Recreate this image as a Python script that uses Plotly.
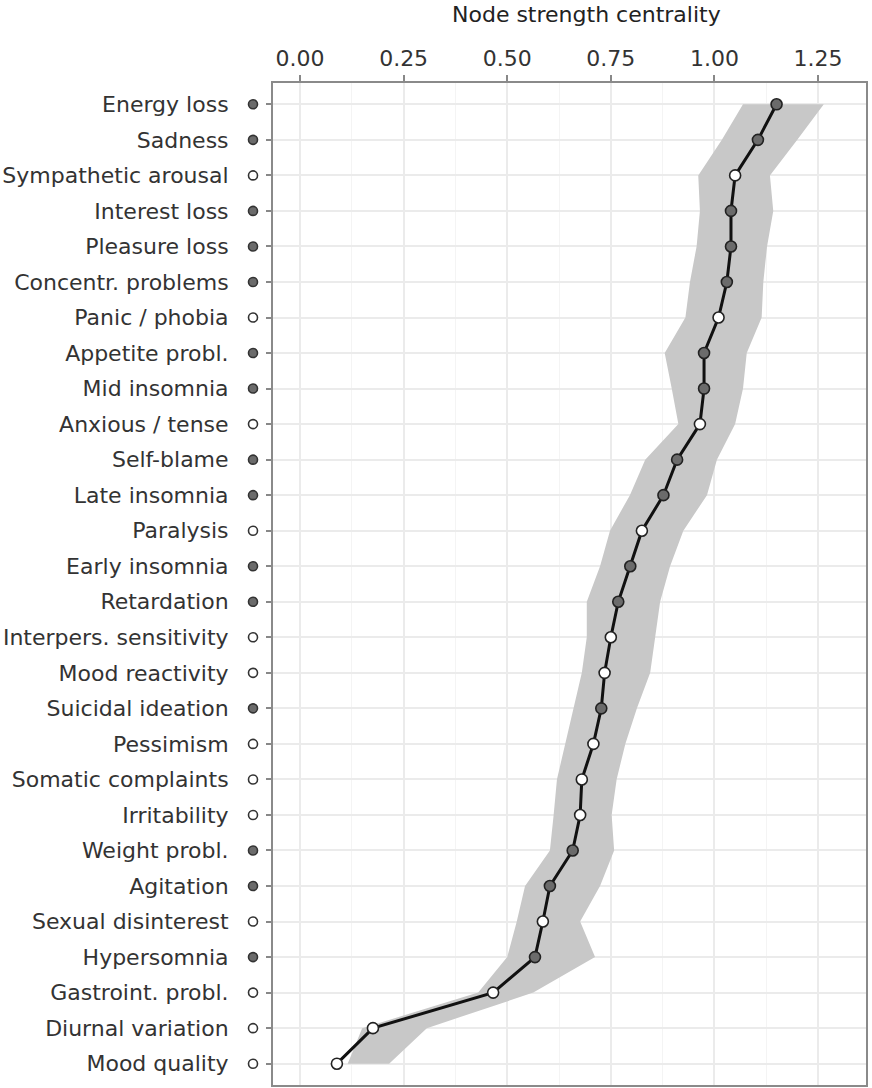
import plotly.graph_objects as go

symptoms = ["Energy loss", "Sadness", "Sympathetic arousal", "Interest loss", "Pleasure loss",
            "Concentr. problems", "Panic / phobia", "Appetite probl.", "Mid insomnia",
            "Anxious / tense", "Self-blame", "Late insomnia", "Paralysis", "Early insomnia",
            "Retardation", "Interpers. sensitivity", "Mood reactivity", "Suicidal ideation",
            "Pessimism", "Somatic complaints", "Irritability", "Weight probl.", "Agitation",
            "Sexual disinterest", "Hypersomnia", "Gastroint. probl.", "Diurnal variation",
            "Mood quality"]
# True = DSM depression symptom (filled marker), False = other (open marker)
is_dsm = [True, True, False, True, True, True, False, True, True, False, True, True, False, True,
          True, False, False, True, False, False, False, True, True, False, True, False, False, False]
strength = [1.15, 1.105, 1.05, 1.04, 1.04, 1.03, 1.01, 0.975, 0.975, 0.965, 0.91, 0.877, 0.825,
            0.797, 0.768, 0.75, 0.735, 0.727, 0.708, 0.68, 0.676, 0.658, 0.603, 0.586, 0.567,
            0.466, 0.176, 0.089]
lower = [1.069, 1.018, 0.961, 0.965, 0.957, 0.941, 0.93, 0.88, 0.897, 0.913, 0.833, 0.796, 0.748,
         0.724, 0.692, 0.692, 0.68, 0.66, 0.64, 0.62, 0.612, 0.603, 0.543, 0.523, 0.5, 0.43,
         0.15, 0.115]
upper = [1.264, 1.2, 1.134, 1.142, 1.127, 1.118, 1.114, 1.078, 1.069, 1.05, 1.006, 0.982, 0.925,
         0.893, 0.869, 0.857, 0.845, 0.813, 0.785, 0.764, 0.752, 0.758, 0.724, 0.676, 0.712,
         0.563, 0.306, 0.215]
x_ticks = [0.0, 0.25, 0.5, 0.75, 1.0, 1.25]
x_ticklabels = ["0.00", "0.25", "0.50", "0.75", "1.00", "1.25"]

FONT = "DejaVu Sans"
TEXT = "#333333"
fill_dark = "#6b6b6b"
fills = [fill_dark if d else "white" for d in is_dsm]

fig = go.Figure()
# confidence band
fig.add_trace(go.Scatter(
    x=lower + upper[::-1], y=symptoms + symptoms[::-1], fill="toself",
    fillcolor="#c8c8c8", line=dict(width=0), mode="lines", hoverinfo="skip",
    showlegend=False))
# line + points
fig.add_trace(go.Scatter(
    x=strength, y=symptoms, mode="lines+markers",
    line=dict(color="#111111", width=3),
    marker=dict(size=11, color=fills, line=dict(color="#222222", width=1.6)),
    showlegend=False))

# small circles beside the labels (pixel-sized shapes anchored to each category)
shapes = []
for name, col in zip(symptoms, fills):
    shapes.append(dict(
        type="circle", xref="paper", yref="y", xsizemode="pixel", ysizemode="pixel",
        xanchor=0, yanchor=name, x0=-24.5, x1=-15.5, y0=-4.5, y1=4.5,
        fillcolor=col, line=dict(color="#333333", width=1.6), layer="above"))

fig.update_layout(
    width=872, height=1088,
    margin=dict(l=273, r=6, t=83, b=3, autoexpand=False),
    paper_bgcolor="white", plot_bgcolor="white",
    font=dict(family=FONT, size=22, color=TEXT),
    shapes=shapes,
    annotations=[dict(text="Node strength centrality", xref="paper", yref="paper",
                      x=0.5295, y=1.068, xanchor="center", yanchor="middle",
                      showarrow=False, font=dict(family=FONT, size=22, color="#222222"))],
)
fig.update_xaxes(
    side="top", range=[-0.0652, 1.3658], tickvals=x_ticks, ticktext=x_ticklabels,
    ticks="outside", ticklen=6, tickwidth=1.5, tickcolor="#888888", automargin=False,
    showline=True, linecolor="#8a8a8a", linewidth=2, mirror=True,
    showgrid=True, gridcolor="#ebebeb", gridwidth=1.5,
    minor=dict(dtick=0.125, tick0=0.125, showgrid=True, gridcolor="#f4f4f4", gridwidth=1),
    zeroline=False, tickfont=dict(family=FONT, size=22, color=TEXT),
)
fig.update_yaxes(
    type="category", categoryorder="array", categoryarray=symptoms,
    range=[27.6, -0.6], ticks="outside", ticklen=5, tickwidth=1.5, tickcolor="#888888",
    ticklabelstandoff=33, automargin=False,
    showline=True, linecolor="#8a8a8a", linewidth=2, mirror=True,
    showgrid=True, gridcolor="#ebebeb", gridwidth=1.5, zeroline=False,
    tickfont=dict(family=FONT, size=22, color=TEXT),
)

fig.write_html("out.html", config={"displayModeBar": False},
               post_script="document.body.style.margin='0px';document.body.style.overflow='hidden';")
